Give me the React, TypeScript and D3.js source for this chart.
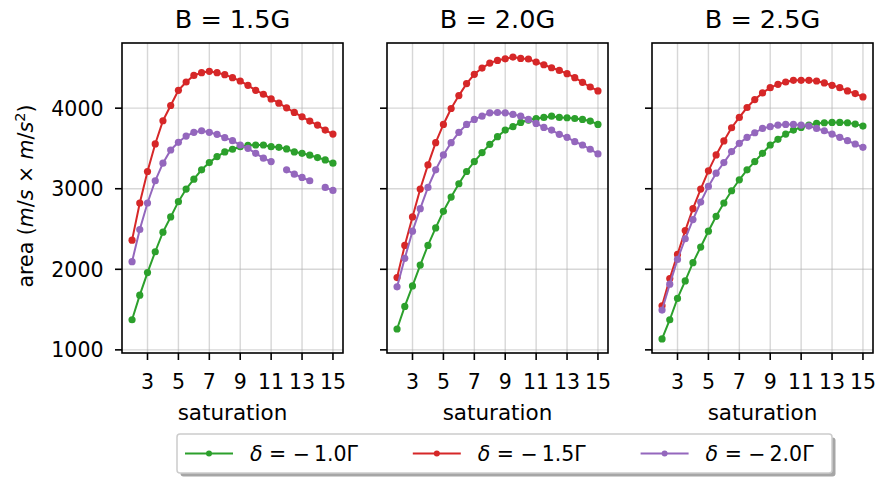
import React from "react";
import * as d3 from "d3";

const saturation = [2, 2.5, 3, 3.5, 4, 4.5, 5, 5.5, 6, 6.5, 7, 7.5, 8, 8.5, 9, 9.5, 10, 10.5, 11, 11.5, 12, 12.5, 13, 13.5, 14, 14.5, 15];
const xTicks = [3, 5, 7, 9, 11, 13, 15];
const yTicks = [1000, 2000, 3000, 4000];
const panelTitles = ["B = 1.5G", "B = 2.0G", "B = 2.5G"];
const seriesLabels = ["\u22121.0\u0393", "\u22121.5\u0393", "\u22122.0\u0393"];
const seriesColors = ["#2ca02c", "#d62728", "#9467bd"];

// B = 1.5G
const green1 = [1374, 1679, 1959, 2218, 2461, 2650, 2840, 2996, 3119, 3235, 3325, 3399, 3457, 3490, 3522, 3539, 3543, 3543, 3522, 3514, 3494, 3457, 3440, 3416, 3387, 3358, 3317];
const red1 = [2362, 2823, 3214, 3556, 3844, 4033, 4222, 4325, 4407, 4440, 4457, 4440, 4416, 4379, 4337, 4284, 4222, 4173, 4115, 4062, 4004, 3947, 3893, 3840, 3790, 3728, 3679];
const purple1 = [2095, 2494, 2823, 3099, 3317, 3481, 3576, 3654, 3700, 3720, 3700, 3675, 3634, 3597, 3543, 3502, 3440, 3379, 3337, null, 3235, 3181, 3140, 3099, null, 3016, 2979];
// B = 2.0G
const green2 = [1259, 1539, 1794, 2053, 2296, 2514, 2720, 2897, 3062, 3214, 3337, 3449, 3551, 3646, 3728, 3770, 3823, 3852, 3872, 3885, 3901, 3885, 3881, 3872, 3860, 3840, 3798];
const red2 = [1897, 2296, 2650, 2996, 3296, 3572, 3798, 3996, 4156, 4305, 4420, 4498, 4560, 4593, 4613, 4634, 4617, 4610, 4572, 4539, 4502, 4469, 4428, 4379, 4321, 4263, 4214];
const purple2 = [1782, 2136, 2473, 2753, 3016, 3235, 3420, 3572, 3700, 3798, 3860, 3901, 3942, 3946, 3942, 3922, 3901, 3860, 3811, 3761, 3728, 3675, 3638, 3584, 3543, 3490, 3432];
// B = 2.5G
const green3 = [1136, 1374, 1638, 1856, 2082, 2276, 2473, 2658, 2823, 2975, 3111, 3235, 3337, 3440, 3543, 3613, 3679, 3728, 3761, 3790, 3811, 3819, 3823, 3823, 3819, 3802, 3778];
const red3 = [1547, 1885, 2185, 2481, 2753, 2996, 3222, 3420, 3593, 3757, 3885, 4008, 4107, 4189, 4255, 4296, 4325, 4346, 4346, 4346, 4337, 4313, 4284, 4255, 4214, 4181, 4140];
const purple3 = [1494, 1815, 2123, 2379, 2617, 2835, 3029, 3193, 3325, 3461, 3564, 3638, 3695, 3749, 3770, 3790, 3798, 3798, 3790, 3778, 3749, 3720, 3679, 3638, 3597, 3555, 3514];

const panelSeries = [
  [green1, red1, purple1],
  [green2, red2, purple2],
  [green3, red3, purple3],
];

const W = 875;
const H = 479;
const FONT = "DejaVu Sans, Verdana, sans-serif";
const plotLeft = 122;
const plotW = 221;
const plotGap = 44;
const plotTop = 43;
const plotBottom = 353;
const tickLen = 7;

export default function App() {
  const allVals = panelSeries.flat(2).filter((v) => v != null) as number[];
  const [ymin, ymax] = d3.extent(allVals) as [number, number];
  const ypad = (ymax - ymin) * 0.05;
  const y = d3.scaleLinear().domain([ymin - ypad, ymax + ypad]).range([plotBottom, plotTop]);
  const [xmin, xmax] = d3.extent(saturation) as [number, number];
  const xpad = (xmax - xmin) * 0.05;

  const legendX = 177;
  const legendY = 434;
  const legendW = 655;
  const legendH = 39;
  const colW = 227.8;

  return (
    <div style={{ position: "absolute", left: 0, top: 0 }}>
      <svg width={W} height={H} style={{ display: "block", fontFamily: FONT }}>
        <rect width={W} height={H} fill="#fff" />
        {panelSeries.map((series, pi) => {
          const left = plotLeft + pi * (plotW + plotGap);
          const x = d3.scaleLinear().domain([xmin - xpad, xmax + xpad]).range([left, left + plotW]);
          const line = d3
            .line<number | null>()
            .defined((d) => d != null)
            .x((_, i) => x(saturation[i]))
            .y((d) => y(d as number));
          return (
            <g key={pi}>
              {/* grid */}
              {xTicks.map((t) => (
                <line key={"gx" + t} x1={x(t)} x2={x(t)} y1={plotTop} y2={plotBottom} stroke="#b0b0b0" strokeOpacity={0.5} strokeWidth={1.4} />
              ))}
              {yTicks.map((t) => (
                <line key={"gy" + t} x1={left} x2={left + plotW} y1={y(t)} y2={y(t)} stroke="#b0b0b0" strokeOpacity={0.5} strokeWidth={1.4} />
              ))}
              {/* series */}
              {series.map((s, si) => (
                <g key={si}>
                  <path d={line(s) || ""} fill="none" stroke={seriesColors[si]} strokeWidth={2} />
                  {s.map((v, i) =>
                    v == null ? null : (
                      <circle key={i} cx={x(saturation[i])} cy={y(v)} r={3.6} fill={seriesColors[si]} />
                    )
                  )}
                </g>
              ))}
              {/* frame */}
              <rect x={left} y={plotTop} width={plotW} height={plotBottom - plotTop} fill="none" stroke="#000" strokeWidth={1.6} />
              {/* x ticks */}
              {xTicks.map((t) => (
                <g key={"xt" + t}>
                  <line x1={x(t)} x2={x(t)} y1={plotBottom} y2={plotBottom + tickLen} stroke="#000" strokeWidth={1.6} />
                  <text x={x(t)} y={389} textAnchor="middle" fontSize={20.5} fill="#000">
                    {t}
                  </text>
                </g>
              ))}
              {/* y ticks */}
              {yTicks.map((t) => (
                <g key={"yt" + t}>
                  <line x1={left - tickLen} x2={left} y1={y(t)} y2={y(t)} stroke="#000" strokeWidth={1.6} />
                  {pi === 0 && (
                    <text x={103.5} y={y(t) + 7.5} textAnchor="end" fontSize={20.5} fill="#000">
                      {t}
                    </text>
                  )}
                </g>
              ))}
              <text x={left + plotW / 2} y={420} textAnchor="middle" fontSize={21.5} fill="#000">
                saturation
              </text>
              <text x={left + plotW / 2} y={28} textAnchor="middle" fontSize={25.5} fill="#000">
                {panelTitles[pi]}
              </text>
            </g>
          );
        })}
        {/* y label */}
        <text transform={`translate(33, 196) rotate(-90)`} textAnchor="middle" fontSize={20.5} fill="#000">
          area (<tspan fontStyle="italic">m</tspan>/<tspan fontStyle="italic">s</tspan> × <tspan fontStyle="italic">m</tspan>/<tspan fontStyle="italic">s</tspan>
          <tspan dy={-8} fontSize={14.5}>2</tspan>
          <tspan dy={8}>)</tspan>
        </text>
        {/* legend */}
        <rect x={legendX + 3.5} y={legendY + 3.5} width={legendW} height={legendH} rx={3} fill="#808080" fillOpacity={0.7} />
        <rect x={legendX} y={legendY} width={legendW} height={legendH} rx={3} fill="#fff" stroke="#cccccc" strokeWidth={1.5} />
        {seriesLabels.map((lab, si) => {
          const hx = 185 + si * colW;
          const ly = 453.5;
          return (
            <g key={si}>
              <line x1={hx} x2={hx + 48} y1={ly} y2={ly} stroke={seriesColors[si]} strokeWidth={2} />
              <circle cx={hx + 24} cy={ly} r={3} fill={seriesColors[si]} />
              <text x={hx + 65} y={460.5} fontSize={20.5} fill="#000">
                <tspan fontStyle="italic">δ</tspan>
                <tspan> = </tspan>
                <tspan>{lab.slice(0, 1)}</tspan>
                <tspan dx={4}>{lab.slice(1)}</tspan>
              </text>
            </g>
          );
        })}
      </svg>
    </div>
  );
}
